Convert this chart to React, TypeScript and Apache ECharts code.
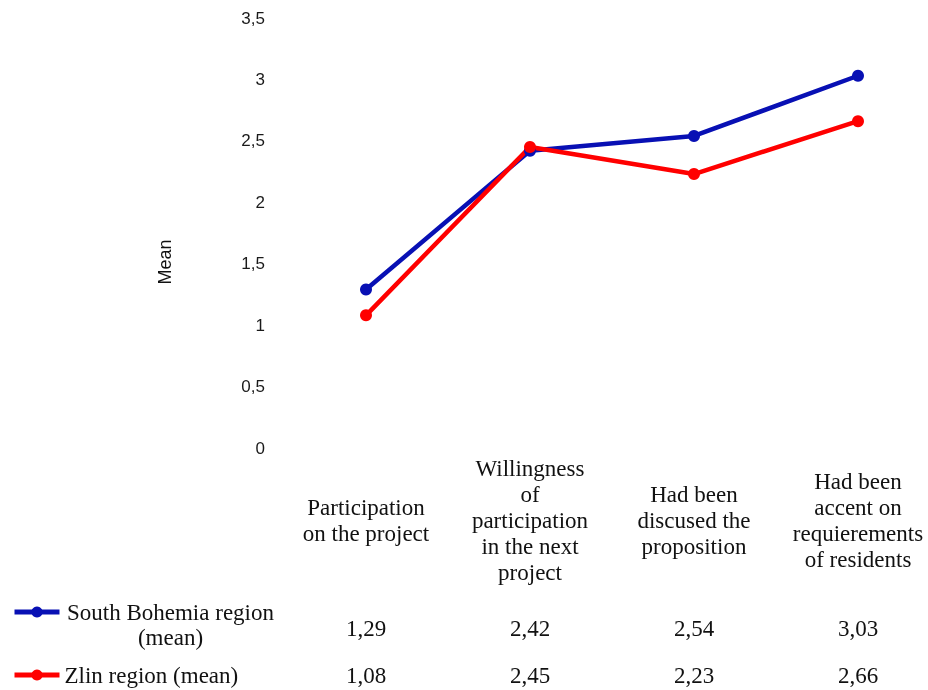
import React, { useEffect, useRef } from "react";
import * as echarts from "echarts";

const categories = [
  "Participation\non the project",
  "Willingness\nof\nparticipation\nin the next\nproject",
  "Had been\ndiscused the\nproposition",
  "Had been\naccent on\nrequierements\nof residents",
];
const southBohemia = [1.29, 2.42, 2.54, 3.03];
const zlin = [1.08, 2.45, 2.23, 2.66];
const seriesNames = ["South Bohemia region (mean)", "Zlin region (mean)"];
const yTicks = { min: 0, max: 3.5, interval: 0.5 };

const fmt = (v: number) => String(v).replace(".", ",");
const fmt2 = (v: number) => v.toFixed(2).replace(".", ",");

const SERIF = "'Liberation Serif', 'Times New Roman', serif";
const SANS = "'Liberation Sans', Arial, sans-serif";
const BLUE = "#0810b4";
const RED = "#ff0000";

export default function App() {
  const ref = useRef<HTMLDivElement>(null);
  useEffect(() => {
    if (!ref.current) return;
    const chart = echarts.init(ref.current, null, { renderer: "svg" });
    const hiddenAxis = {
      type: "category" as const,
      position: "bottom" as const,
      boundaryGap: false,
      axisLine: { show: false },
      axisTick: { show: false },
      splitLine: { show: false },
    };
    chart.setOption({
      animation: false,
      grid: {
        left: 366,
        right: 70,
        top: 18,
        bottom: 242,
        containLabel: false,
        outerBoundsMode: "none",
      },
      xAxis: [
        {
          ...hiddenAxis,
          data: categories,
          axisLabel: {
            interval: 0,
            margin: 72,
            verticalAlign: "middle",
            align: "center",
            fontFamily: SERIF,
            fontSize: 23,
            lineHeight: 26,
            color: "#111",
          },
        },
        {
          ...hiddenAxis,
          data: southBohemia.map(fmt2),
          axisLabel: {
            interval: 0,
            margin: 180,
            verticalAlign: "middle",
            fontFamily: SERIF,
            fontSize: 23,
            color: "#111",
          },
        },
        {
          ...hiddenAxis,
          data: zlin.map(fmt2),
          axisLabel: {
            interval: 0,
            margin: 227,
            verticalAlign: "middle",
            fontFamily: SERIF,
            fontSize: 23,
            color: "#111",
          },
        },
      ],
      yAxis: {
        type: "value",
        min: yTicks.min,
        max: yTicks.max,
        interval: yTicks.interval,
        axisLine: { show: false },
        axisTick: { show: false },
        splitLine: { show: false },
        axisLabel: {
          margin: 101,
          formatter: (v: number) => fmt(v),
          fontFamily: SANS,
          fontSize: 17,
          color: "#1a1a1a",
        },
      },
      legend: [
        {
          data: [seriesNames[0]],
          orient: "vertical",
          left: 12,
          top: 600.5,
          padding: 0,
          itemWidth: 45,
          itemHeight: 14,
          itemGap: 0,
          lineStyle: { width: 5 },
          formatter: () => "{a|South Bohemia region}\n{a|(mean)}",
          textStyle: {
            padding: [25, 0, 0, 0],
            rich: {
              a: {
                fontFamily: SERIF,
                fontSize: 23,
                lineHeight: 25,
                width: 212,
                align: "center",
                color: "#111",
              },
            },
          },
        },
        {
          data: [seriesNames[1]],
          orient: "vertical",
          left: 12,
          top: 662.5,
          padding: 0,
          itemWidth: 45,
          itemHeight: 14,
          itemGap: 0,
          lineStyle: { width: 5 },
          textStyle: {
            fontFamily: SERIF,
            fontSize: 23,
            lineHeight: 25,
            color: "#111",
          },
        },
      ],
      graphic: [
        {
          type: "text",
          x: 165,
          y: 262,
          rotation: Math.PI / 2,
          style: {
            text: "Mean",
            fontFamily: SANS,
            fontSize: 18,
            fill: "#111",
            align: "center",
            verticalAlign: "middle",
          },
        },
      ],
      series: [
        {
          name: seriesNames[0],
          type: "line",
          data: southBohemia,
          symbol: "circle",
          symbolSize: 12,
          lineStyle: { color: BLUE, width: 4.5 },
          itemStyle: { color: BLUE },
        },
        {
          name: seriesNames[1],
          type: "line",
          data: zlin,
          symbol: "circle",
          symbolSize: 12,
          lineStyle: { color: RED, width: 4.5 },
          itemStyle: { color: RED },
        },
      ],
    });
    return () => chart.dispose();
  }, []);
  return (
    <div
      ref={ref}
      style={{ position: "fixed", left: 0, top: 0, width: 928, height: 690 }}
    />
  );
}
